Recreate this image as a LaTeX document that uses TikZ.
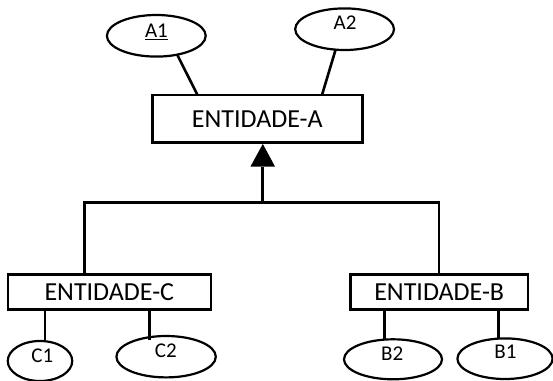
\documentclass[tikz,border=0pt]{standalone}
\usepackage{fontspec}
\setmainfont{Carlito}
\usetikzlibrary{shapes.geometric,arrows.meta}
\begin{document}
\begin{tikzpicture}[x=1pt,y=-1pt,
  entbox/.style={draw,line width=2.6pt,rectangle,inner sep=0pt,font=\fontsize{26}{30}\selectfont},
  attr/.style={draw,line width=2.2pt,ellipse,inner sep=0pt},
  lbl/.style={inner sep=0pt,font=\fontsize{21}{25}\selectfont},
  conn/.style={line width=2.6pt}]
\useasboundingbox (0,0) rectangle (553,380);
% entities
\node[entbox,minimum width=210pt,minimum height=47.7pt] (ea) at (257.3,118.8) {ENTIDADE-A};
\node[entbox,minimum width=203pt,minimum height=35pt] (ec) at (109.3,291.8) {ENTIDADE-C};
\node[entbox,minimum width=177.7pt,minimum height=35pt] (eb) at (439.2,291.8) {ENTIDADE-B};
% attributes
\node[attr,minimum width=98.8pt,minimum height=41.6pt] (a1) at (156.3,35.8) {};
\node[lbl] (a1t) at (156.4,31.7) {\underline{A1}};
\node[attr,minimum width=98.8pt,minimum height=41.6pt] (a2) at (344.6,29.2) {};
\node[lbl] (a2t) at (345,22.7) {A2};
\node[attr,minimum width=64.5pt,minimum height=40pt] (c1) at (40,361) {};
\node[lbl] (c1t) at (42.3,356) {C1};
\node[attr,minimum width=99.4pt,minimum height=41.4pt] (c2) at (166.1,356.7) {};
\node[lbl] (c2t) at (165.8,350.7) {C2};
\node[attr,minimum width=98pt,minimum height=40pt] (b2) at (393,359.3) {};
\node[lbl] (b2t) at (392.2,353.3) {B2};
\node[attr,minimum width=95.2pt,minimum height=40.6pt] (b1) at (505,358.7) {};
\node[lbl] (b1t) at (505.5,352) {B1};
% attribute connectors
\coordinate (a1e) at (177,54.3);
\coordinate (a1b) at (197.5,95);
\coordinate (a2e) at (335.8,49);
\coordinate (a2b) at (322,95);
\draw[conn] (a1e) -- (a1b);
\draw[conn] (a2e) -- (a2b);
\coordinate (c1e) at (45.1,341.5);
\coordinate (c2e) at (149.6,339.5);
\coordinate (b2e) at (384.5,339.5);
\coordinate (b1e) at (498.4,338.5);
\draw[conn] (c1e |- ec.south) -- (c1e);
\draw[conn] (c2e |- ec.south) -- (c2e);
\draw[conn] (b2e |- eb.south) -- (b2e);
\draw[conn] (b1e |- eb.south) -- (b1e);
% generalisation
\coordinate (jn) at (262.8,202.7);
\coordinate (jl) at (84.7,202.7);
\coordinate (jr) at (439,202.7);
\coordinate (ab) at (262.8,166.7);
\draw[line width=3.2pt] (jn) -- (ab);
\fill (ea.south -| ab) -- ([xshift=-12.4pt]ab) -- ([xshift=12.3pt]ab) -- cycle;
\draw[conn] (jl |- ec.north) -- (jl) -- (jr) -- (jr |- eb.north);
\end{tikzpicture}
\end{document}
